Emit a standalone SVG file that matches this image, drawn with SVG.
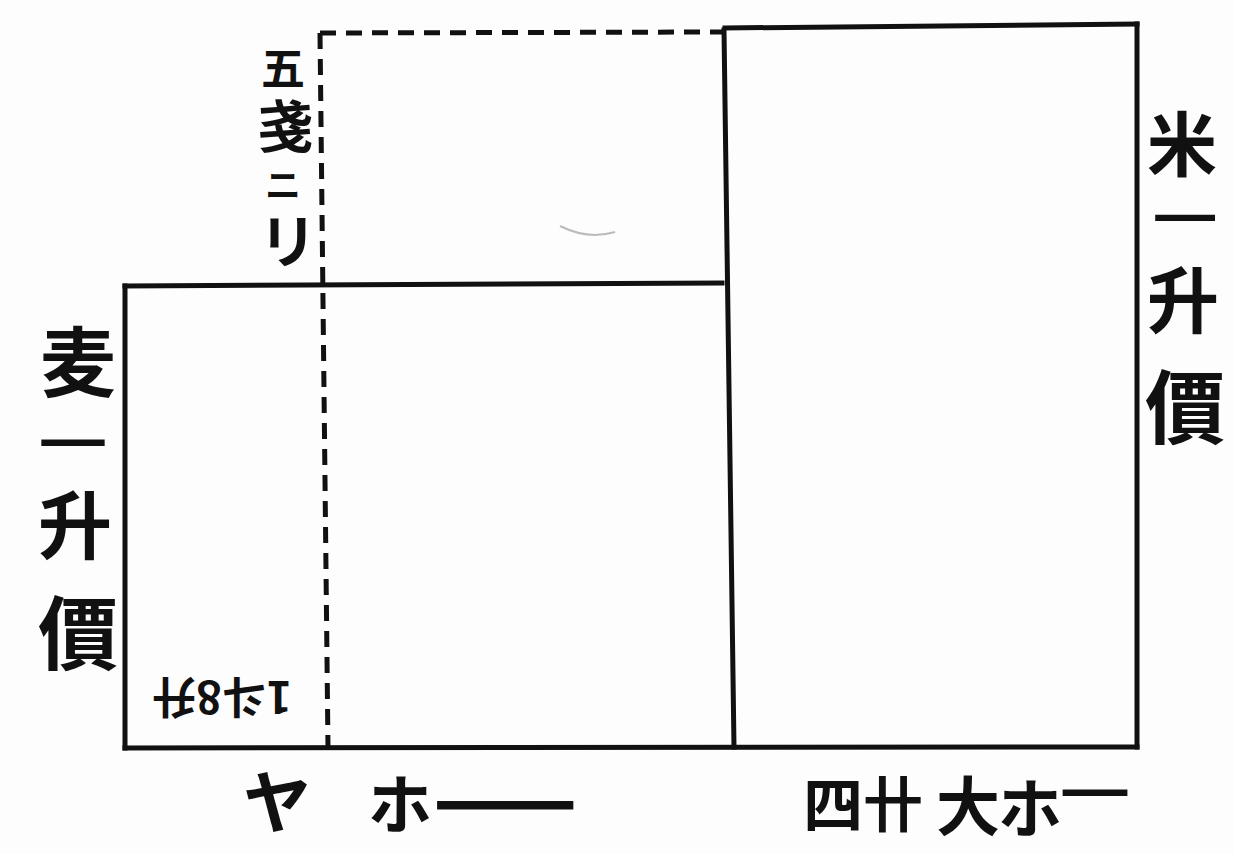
<svg xmlns="http://www.w3.org/2000/svg" width="1234" height="854" viewBox="0 0 1234 854">
<style>
.ln{stroke:#111;stroke-width:5;fill:none;stroke-linecap:square}
.ds{stroke:#111;stroke-width:5;fill:none;stroke-dasharray:16 10}
.t{font-family:"Noto Sans CJK JP","Noto Sans CJK SC",sans-serif;font-weight:bold;fill:#111;text-anchor:middle;dominant-baseline:central}
</style>
<rect width="1234" height="854" fill="#fdfdfd"/>
<g id="connectors">
<line class="ln" x1="725" y1="28" x2="1137" y2="24"/>
<line class="ln" x1="1137" y1="24" x2="1137" y2="747"/>
<line class="ln" x1="724" y1="30" x2="734" y2="747"/>
<line class="ln" x1="125" y1="748" x2="1137" y2="747"/>
<line class="ln" x1="125" y1="286" x2="125" y2="748"/>
<line class="ln" x1="125" y1="286" x2="722" y2="283"/>
<line class="ds" x1="320" y1="33" x2="724" y2="32"/>
<line class="ds" x1="320" y1="33" x2="328" y2="748"/>
<path d="M560 226 Q588 240 615 232" stroke="#bbb" stroke-width="2" fill="none"/>
</g>
<g id="label-top-left">
<text class="t" x="283" y="66" font-size="44">五</text>
<text class="t" x="285" y="122" font-size="56">戔</text>
<text class="t" x="283" y="183" font-size="36">ニ</text>
<text class="t" x="288" y="238" font-size="58">リ</text>
</g>
<g id="label-left">
<text class="t" x="78" y="358" font-size="76">麦</text>
<text class="t" x="0" y="0" font-size="36" transform="translate(73,440) scale(1.9,1.4)">一</text>
<text class="t" x="75" y="520" font-size="74">升</text>
<text class="t" x="78" y="628" font-size="80">價</text>
</g>
<g id="label-right">
<text class="t" x="1182" y="140" font-size="70">米</text>
<text class="t" x="0" y="0" font-size="34" transform="translate(1185,215) scale(1.9,1.4)">一</text>
<text class="t" x="1183" y="295" font-size="72">升</text>
<text class="t" x="1185" y="402" font-size="80">價</text>
</g>
<g id="label-inner">
<text class="t" x="0" y="0" font-size="44" transform="translate(222,700) rotate(180)">1斗8升</text>
</g>
<g id="label-bottom-left">
<text class="t" x="277" y="798" font-size="68">ヤ</text>
<text class="t" x="400" y="800" font-size="64">ホ</text>
<text class="t" x="0" y="0" font-size="64" transform="translate(505,802) scale(2.3,1)">一</text>
</g>
<g id="label-bottom-right">
<text class="t" x="833" y="800" font-size="60">四</text>
<text class="t" x="893" y="800" font-size="60">卄</text>
<text class="t" x="968" y="802" font-size="64">大</text>
<text class="t" x="1030" y="804" font-size="64">ホ</text>
<text class="t" x="0" y="0" font-size="50" transform="translate(1095,790) scale(1.4,1)">一</text>
</g>
</svg>
